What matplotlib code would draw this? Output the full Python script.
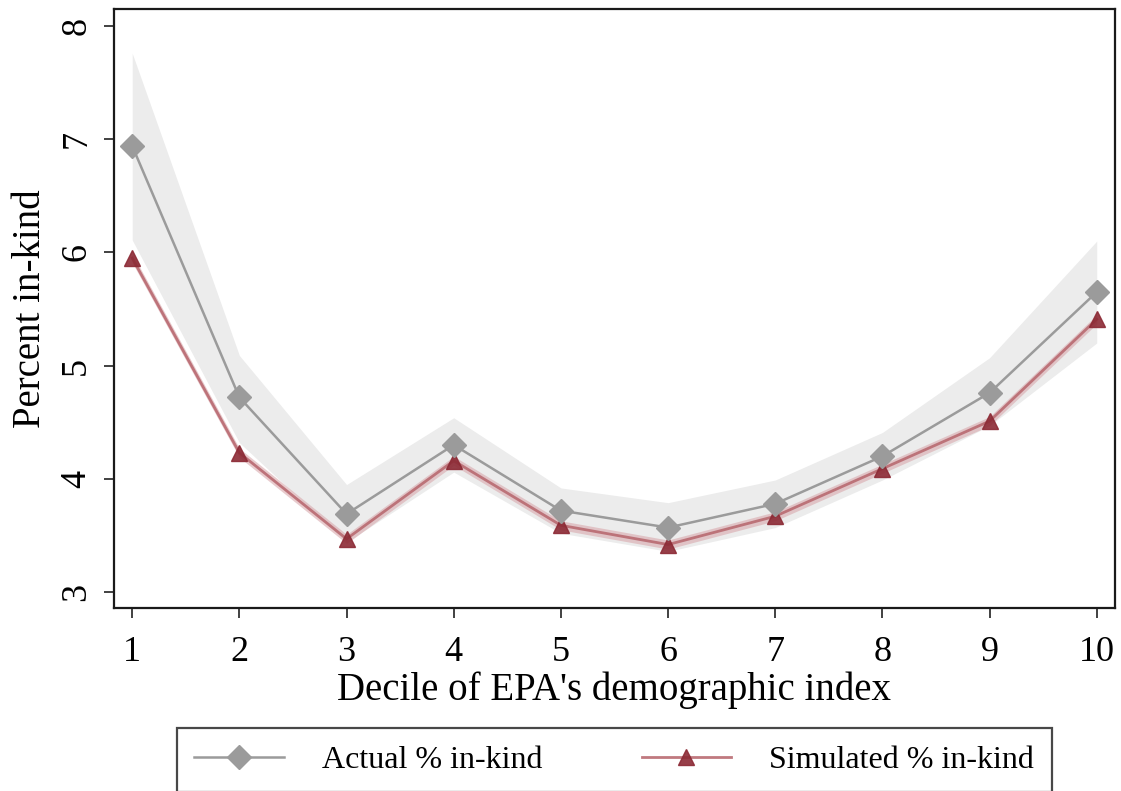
import numpy as np
import matplotlib
matplotlib.use('Agg')
import matplotlib.pyplot as plt

plt.rcParams['font.family'] = ['Liberation Serif', 'DejaVu Serif']

# ---- Data
deciles = [1, 2, 3, 4, 5, 6, 7, 8, 9, 10]
actual = [6.94, 4.72, 3.69, 4.30, 3.72, 3.57, 3.78, 4.20, 4.76, 5.65]
actual_lo = [6.11, 4.32, 3.44, 4.06, 3.52, 3.36, 3.57, 3.99, 4.47, 5.20]
actual_hi = [7.76, 5.09, 3.95, 4.54, 3.92, 3.79, 3.99, 4.41, 5.07, 6.10]
simulated = [5.95, 4.23, 3.47, 4.16, 3.59, 3.42, 3.67, 4.09, 4.51, 5.41]
simulated_lo = [5.91, 4.19, 3.43, 4.12, 3.55, 3.38, 3.63, 4.05, 4.47, 5.37]
simulated_hi = [5.99, 4.27, 3.51, 4.20, 3.63, 3.46, 3.71, 4.13, 4.55, 5.45]
yticks = [3, 4, 5, 6, 7, 8]

gray = '#9b9b9b'
red = '#8c2a35'

fig = plt.figure(figsize=(11.21, 7.91), dpi=100)
ax = fig.add_axes([0.1017, 0.2314, 0.8929, 0.7572])

# Confidence bands
ax.fill_between(deciles, actual_lo, actual_hi, color='#ececec', lw=0,
                zorder=1)
ax.fill_between(deciles, simulated_lo, simulated_hi, color='#d9a9ad',
                alpha=0.6, lw=0, zorder=2)

ax.plot(deciles, actual, color=gray, lw=1.8, marker='D', ms=12,
        mfc=gray, mec=gray, zorder=4, label='Actual % in-kind')
ax.plot(deciles, simulated, color='#b96a71', lw=2.0, marker='^', ms=12,
        mfc=red, mec=red, alpha=0.9, zorder=3, label='Simulated % in-kind')

ax.set_xlim(0.83, 10.17)
ax.set_ylim(2.86, 8.15)
ax.set_xticks(deciles)
ax.set_yticks(yticks)
ax.set_yticklabels([str(t) for t in yticks], rotation=90, va='center')

for sp in ax.spines.values():
    sp.set_linewidth(1.6)
    sp.set_color('#1a1a1a')
ax.tick_params(axis='both', direction='out', length=7, width=1.3,
               labelsize=26, color='#333333')
ax.tick_params(axis='x', pad=13)
ax.tick_params(axis='y', pad=8)

ax.set_xlabel("Decile of EPA's demographic index", fontsize=28, labelpad=2)
ax.set_ylabel('Percent in-kind', fontsize=28, labelpad=8)

leg = fig.legend(loc='lower center', bbox_to_anchor=(0.548, -0.022), ncol=2,
                 fontsize=23, frameon=True, fancybox=False,
                 edgecolor='#1a1a1a', borderpad=0.55, handlelength=2.8,
                 columnspacing=3.1, handletextpad=1.2)
leg.get_frame().set_linewidth(1.6)

fig.savefig('out.png', dpi=100)
